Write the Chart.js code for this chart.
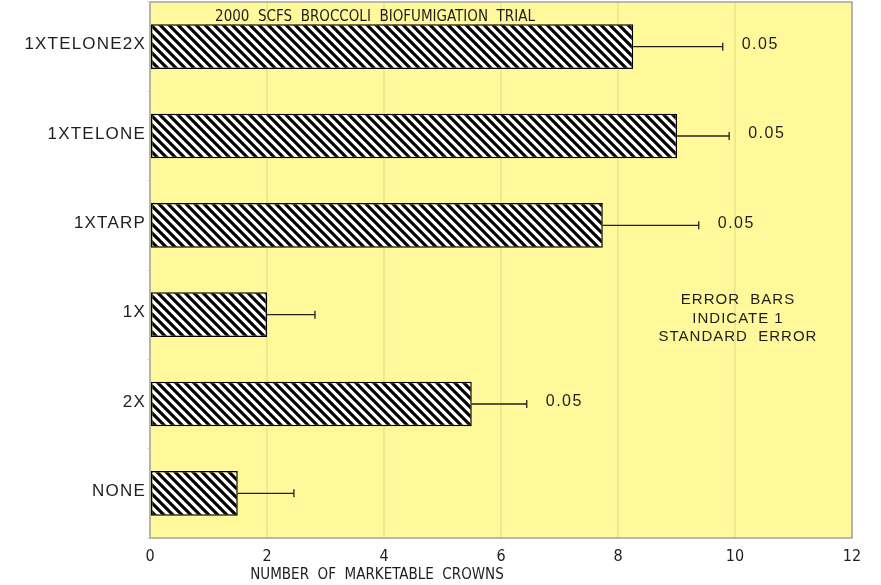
<!DOCTYPE html>
<html lang="en">
<head>
    <meta charset="UTF-8">
    <title>2000 SCFS Broccoli Biofumigation Trial</title>
    <script src="https://cdn.jsdelivr.net/npm/chart.js"></script>
    <style>
        body { margin: 0; background: #fff; }
    </style>
</head>
<body>
    <canvas id="chart" width="881" height="585"></canvas>

    <script>
        // treatments, top to bottom
        const treatments = ['1XTELONE2X', '1XTELONE', '1XTARP', '1X', '2X', 'NONE'];
        const crowns = [8.26, 9.01, 7.74, 2.00, 5.50, 1.50];   // mean marketable crowns
        const stdErr = [1.53, 0.89, 1.64, 0.82, 0.94, 0.96];   // 1 standard error
        const sigLabels = ['0.05', '0.05', '0.05', '', '0.05', ''];
        const xTicks = [0, 2, 4, 6, 8, 10, 12];

        const titleText = '2000  SCFS  BROCCOLI  BIOFUMIGATION  TRIAL';
        const xTitle = 'NUMBER  OF  MARKETABLE  CROWNS';
        const noteLines = ['ERROR  BARS', 'INDICATE 1', 'STANDARD  ERROR'];

        const narrow = '"DejaVu Sans Condensed", "DejaVu Sans", sans-serif';

        // diagonal hatch fill like the old plot
        function makeHatch() {
            const s = 9;
            const c = document.createElement('canvas');
            c.width = s; c.height = s;
            const g = c.getContext('2d');
            g.fillStyle = '#fff';
            g.fillRect(0, 0, s, s);
            g.strokeStyle = '#000';
            g.lineWidth = 3.1;
            g.beginPath();
            g.moveTo(-2, -2); g.lineTo(s + 2, s + 2);
            g.moveTo(-2, s - 2); g.lineTo(2, s + 2);
            g.moveTo(s - 2, -2); g.lineTo(s + 2, 2);
            g.stroke();
            return g.createPattern(c, 'repeat');
        }

        const ctx = document.getElementById('chart');
        const hatch = makeHatch();

        const extras = {
            id: 'extras',
            beforeDraw(chart) {
                const a = chart.chartArea, c = chart.ctx;
                c.save();
                c.fillStyle = '#fff99b';
                c.fillRect(a.left, a.top, a.right - a.left, a.bottom - a.top);
                c.restore();
            },
            afterDatasetsDraw(chart) {
                const a = chart.chartArea, c = chart.ctx;
                const xs = chart.scales.x, ys = chart.scales.y;
                c.save();

                // error bars + significance labels
                c.strokeStyle = '#222';
                c.lineWidth = 1.3;
                c.fillStyle = '#1e1e1e';
                c.font = '16px "Liberation Sans"';
                c.letterSpacing = '1.5px';
                c.textBaseline = 'middle';
                treatments.forEach((t, i) => {
                    const y = ys.getPixelForValue(i);
                    const x0 = xs.getPixelForValue(crowns[i]);
                    const x1 = xs.getPixelForValue(crowns[i] + stdErr[i]);
                    c.beginPath();
                    c.moveTo(x0, y); c.lineTo(x1, y);
                    c.moveTo(x1, y - 4); c.lineTo(x1, y + 4);
                    c.stroke();
                    if (sigLabels[i]) {
                        c.textAlign = 'left';
                        c.fillText(sigLabels[i], x1 + 19, y - 2);
                    }
                });

                // category labels
                c.font = '17px "Liberation Sans"';
                c.letterSpacing = '1.2px';
                c.textAlign = 'right';
                treatments.forEach((t, i) => {
                    c.fillText(t, 146, ys.getPixelForValue(i) - 2);
                });

                // note text
                c.font = '15px "Liberation Sans"';
                c.letterSpacing = '1px';
                c.textAlign = 'center';
                noteLines.forEach((l, i) => c.fillText(l, 738, 300 + i * 18.5));

                // title and x title
                c.letterSpacing = '0px';
                c.font = '15px ' + narrow;
                c.fillText(titleText, 375, 17);
                c.fillText(xTitle, 377, 575);

                // frame
                c.strokeStyle = '#a3a3a3';
                c.lineWidth = 1.5;
                c.strokeRect(a.left, a.top, a.right - a.left, a.bottom - a.top);
                c.restore();
            }
        };

        const chart = new Chart(ctx, {
            type: 'bar',
            data: {
                labels: treatments,
                datasets: [{
                    data: crowns,
                    backgroundColor: hatch,
                    borderColor: '#000',
                    borderWidth: 1.5,
                    borderSkipped: false,
                    categoryPercentage: 1,
                    barPercentage: 0.5
                }]
            },
            options: {
                indexAxis: 'y',
                responsive: false,
                animation: false,
                layout: { padding: { top: 2, right: 29, left: 0, bottom: 0 } },
                plugins: { legend: { display: false }, tooltip: { enabled: false } },
                scales: {
                    x: {
                        min: 0, max: 12,
                        afterBuildTicks: s => { s.ticks = xTicks.map(v => ({ value: v })); },
                        afterFit: s => { s.height = 47; },
                        grid: { color: 'rgba(120,120,60,0.13)', lineWidth: 2, drawTicks: false },
                        border: { display: false },
                        ticks: {
                            padding: 9,
                            color: '#1e1e1e',
                            font: { family: narrow, size: 16 }
                        }
                    },
                    y: {
                        afterFit: s => { s.width = 150; },
                        grid: { drawOnChartArea: false, color: '#ddd', tickLength: 3 },
                        border: { display: false },
                        ticks: { display: false }
                    }
                }
            },
            plugins: [extras]
        });
    </script>
</body>
</html>
